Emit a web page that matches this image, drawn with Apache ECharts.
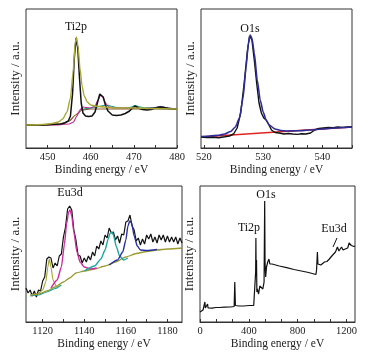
<!DOCTYPE html>
<html><head><meta charset="utf-8">
<script src="https://cdn.jsdelivr.net/npm/echarts@6/dist/echarts.min.js"></script>
<style>html,body{margin:0;padding:0;background:#fff}#c{width:370px;height:357px}</style>
</head><body><div id="c"></div>
<script>
// ---------- Panel 1: Ti2p ----------
const ti2pLabels = [450, 460, 470, 480];
const ti2pTicks = [450, 455, 460, 465, 470, 475, 480];
const ti2pRaw = [[445,23],[447,23.2],[449,22.8],[451,23.5],[453,24],[454,25],[454.8,27],[455.3,32],[455.8,55],[456.2,90],[456.6,110],[457.0,100],[457.4,70],[457.8,45],[458.2,35],[458.8,32],[459.5,31.5],[460.3,32],[461.0,36],[461.6,46],[462.1,54],[462.5,55],[462.9,51],[463.4,43],[464,37],[465,33],[466,32.5],[467,33],[468,34.5],[469,37],[469.7,40],[470.3,42],[471,40],[472,38.5],[473,38],[474,38.5],[475,40],[476,41],[477,40.5],[478,39.5],[479,39],[480,39]];
const ti2pFitA = [[445,23],[449,23.5],[451,24.5],[452.5,26],[453.5,29],[454.5,36],[455.3,50],[455.9,75],[456.4,105],[456.7,111],[457.1,100],[457.5,80],[458,62],[458.5,52],[459.2,46],[460,43],[461,42],[463,41],[466,40],[470,40],[475,39.5],[480,39]];
const ti2pFitB = [[445,23],[452,23],[455,24],[456,26],[456.8,32],[457.5,38],[458.2,41],[459,40.5],[460,40],[461,42],[461.7,48],[462.3,53],[462.8,51],[463.4,45],[464.2,41],[465.5,40],[468,40],[472,39.5],[476,39.5],[480,39]];
const ti2pFitC = [[457.5,38],[459,39.5],[461,40.5],[462.5,42],[463.5,43],[464.5,42],[466,40.5],[468,40],[469.5,41],[470.2,42.5],[471,41.5],[472.5,40],[475,39.5],[480,39]];
const ti2pFitD = [[472,39.5],[475,40.5],[476.2,41.5],[477.3,40.5],[479,39.5],[480,39]];
const ti2pBg = [[445,23],[453,24],[455,27],[456.5,33],[458,38],[460,39],[480,39]];

// ---------- Panel 2: O1s ----------
const o1sLabels = [520, 530, 540];
const o1sTicks = [520, 522.5, 525, 527.5, 530, 532.5, 535, 537.5, 540, 542.5, 545];
const o1sRaw = [[519.5,11],[520.5,10.5],[521.5,10.8],[522.5,10.3],[523.5,11.2],[524.3,12],[525,14],[525.6,20],[526.2,35],[526.8,65],[527.3,95],[527.7,112],[528.1,108],[528.5,88],[528.9,65],[529.3,45],[529.7,35],[530.1,30],[530.5,28],[530.9,24],[531.4,18],[532,15.5],[532.7,15],[533.5,14],[534.3,14.5],[535,14],[535.8,13.6],[536.5,14.3],[537.2,14],[538,15],[538.7,18],[539.4,19.5],[540.2,20],[541,20.5],[541.8,20.2],[542.6,21],[543.5,20.6],[544.3,21],[545,21]];
const o1sFit = [[519.5,11.5],[521,12],[522.5,12.8],[523.5,14],[524.5,16.5],[525.3,21],[526,30],[526.6,50],[527.1,80],[527.5,105],[527.8,113],[528.1,110],[528.5,95],[529,68],[529.5,48],[530,36],[530.5,28],[531,23],[532,19],[533,17.5],[534,17],[536,17.2],[538,18],[540,19],[542,20],[545,21]];
const o1sBg = [[519.5,11],[545,21]];

// ---------- Panel 3: Eu3d ----------
const eu3dLabels = [1120, 1140, 1160, 1180];
const eu3dTicks = [1120, 1130, 1140, 1150, 1160, 1170, 1180];
const eu3dX = [1112,1113,1114,1115,1116,1117,1118,1119,1120,1121,1122,1123,1124,1125,1126,1127,1128,1129,1130,1131,1132,1133,1134,1135,1136,1137,1138,1139,1140,1141,1142,1143,1144,1145,1146,1147,1148,1149,1150,1151,1152,1153,1154,1155,1156,1157,1158,1159,1160,1161,1162,1163,1164,1165,1166,1167,1168,1169,1170,1171,1172,1173,1174,1175,1176,1177,1178,1179,1180,1181,1182,1183,1184,1185,1186,1187];
const eu3dRaw = [34,29,32,26,31,25,32,31,41,45,63,65,64,54,59,56,66,68,85,95,113,116,112,92,82,67,66,59,64,60,66,62,70,66,76,73,81,77,87,84,94,89,90,82,86,79,88,87,100,101,107,96,92,81,84,77,83,78,87,83,88,80,85,79,87,82,87,80,86,80,85,80,85,78,84,79];
const eu3dBg = [[1114,27],[1118,28],[1122,31],[1126,35],[1130,40],[1133,44],[1136,49],[1140,51],[1145,53],[1150,56],[1155,60],[1160,65],[1165,68.5],[1170,70.5],[1175,72],[1180,73],[1187,74]];
const eu3dLow = [[1114,26],[1118,27],[1122,30],[1126,33.5],[1129,37]];
const eu3dFitA = [[1118,28],[1120,32],[1121.5,40],[1122.5,55],[1123.2,63],[1124,55],[1125,42],[1126.5,36],[1128,37]];
const eu3dFitB = [[1124,34],[1127,42],[1129,55],[1130.5,78],[1131.5,98],[1132.5,110],[1133.2,112],[1134,106],[1135,90],[1136.5,70],[1138,60],[1140,55],[1143,53],[1146,54]];
const eu3dFitC = [[1140,51],[1145,56],[1148,63],[1150,72],[1151.5,83],[1152.5,89],[1153.2,90],[1154,87],[1155.5,75],[1157,66],[1159,62],[1161,64]];
const eu3dFitD = [[1152,57],[1156,62],[1158.5,70],[1160,82],[1161,96],[1161.9,101],[1162.8,99],[1164,86],[1165.5,76],[1167,72],[1170,71.5],[1175,72.5]];

// ---------- Panel 4: survey ----------
const surveyLabels = [0, 400, 800, 1200];
const surveyTicks = [0, 133.33, 266.67, 400, 533.33, 666.67, 800, 933.33, 1066.67, 1200];
const survey = [[0,10],[10,11],[25,12],[35,13],[40,20],[44,14],[55,13.5],[62,18],[66,14],[75,13.5],[100,13.8],[130,14.5],[160,14.5],[200,14.8],[250,15],[280,15.5],[285,40],[290,16.5],[320,16],[360,16],[400,16.5],[440,16.5],[452,16.8],[456,50],[458,84],[460,50],[463,62],[466,30],[470,33],[480,28],[490,36],[500,34],[515,33],[525,40],[530,121],[533,60],[538,45],[545,55],[555,60],[565,63],[572,58],[590,58],[650,56],[710,54.3],[770,52.5],[830,51],[890,49.5],[950,47.5],[955,52],[962,70],[966,58],[975,58],[990,57],[1000,59],[1020,60],[1040,60.5],[1060,63],[1075,62],[1080,66],[1095,67],[1110,70],[1118,69],[1126,75],[1131,74],[1134,77],[1138,71],[1150,73],[1160,75],[1172,72],[1190,73],[1210,74],[1222,79],[1230,79.5],[1240,76.5],[1260,75.5],[1270,76]];

const FONT = 'Liberation Serif';
const grids = [
  {left:26, top:9, width:151, height:139},
  {left:201, top:9, width:151, height:139},
  {left:26, top:186, width:156, height:136},
  {left:200, top:186, width:155, height:136}
];
const xr = [[445,480,ti2pLabels,ti2pTicks],[519.5,545,o1sLabels,o1sTicks],[1112,1187,eu3dLabels,eu3dTicks],[0,1270,surveyLabels,surveyTicks]];
const ymax = [139,139,136,136];

function xAxis(i){
  const r = xr[i];
  return {gridIndex:i, type:'value', min:r[0], max:r[1],
    axisLine:{show:true, lineStyle:{color:'#333', width:1}},
    axisTick:{show:true, inside:true, length:3, customValues:r[3], lineStyle:{color:'#333'}},
    axisLabel:{customValues:r[2], formatter:(v)=>String(v), fontSize:10.5, color:'#222', fontFamily:FONT, margin:4},
    splitLine:{show:false},
    name:'Binding energy / eV', nameLocation:'middle', nameGap:16,
    nameTextStyle:{fontSize:11.5, color:'#222', fontFamily:FONT}};
}
function yAxis(i){
  return {gridIndex:i, type:'value', min:0, max:ymax[i],
    axisLine:{show:false}, axisTick:{show:false}, axisLabel:{show:false}, splitLine:{show:false},
    name:'Intensity / a.u.', nameLocation:'middle', nameGap:4, nameRotate:90,
    nameTextStyle:{fontSize:13, color:'#222', fontFamily:FONT}};
}
function line(i, data, color, w){
  return {type:'line', xAxisIndex:i, yAxisIndex:i, data:data, showSymbol:false, symbol:'none',
    smooth:0.2, smoothMonotone:'x', lineStyle:{color:color, width:w||1.2}, silent:true, animation:false};
}
function rawLine(i, data, w){
  return {type:'line', xAxisIndex:i, yAxisIndex:i, data:data, showSymbol:false, symbol:'none',
    lineStyle:{color:'#111', width:w||1.3}, silent:true, animation:false};
}
const eu3dRawPairs = eu3dX.map((x,k)=>[x, eu3dRaw[k]]);

const series = [
  line(0, ti2pBg, '#8b5a2b'),
  line(0, ti2pFitD, '#2b2b8f'),
  line(0, ti2pFitC, '#1a9a8a'),
  line(0, ti2pFitB, '#c0309a'),
  rawLine(0, ti2pRaw, 1.5),
  line(0, ti2pFitA, '#a9a836', 1.4),
  line(1, o1sBg, '#e02424', 1.4),
  rawLine(1, o1sRaw, 1.4),
  line(1, o1sFit, '#2d2d9a', 1.6),
  rawLine(2, eu3dRawPairs, 1.2),
  line(2, eu3dLow, '#1aa0a0'),
  line(2, eu3dBg, '#9a9a30', 1.3),
  line(2, eu3dFitA, '#a8a832'),
  line(2, eu3dFitB, '#cc2a9e', 1.4),
  line(2, eu3dFitC, '#1aa8a0', 1.4),
  line(2, eu3dFitD, '#2a2fa0', 1.4),
  rawLine(3, survey, 1.2)
];

const txt = (x,y,s)=>({type:'text', x:x, y:y, style:{text:s, fontSize:12, fontFamily:FONT, fill:'#111', align:'center', verticalAlign:'middle'}});
const chart = echarts.init(document.getElementById('c'), null, {renderer:'canvas'});
chart.setOption({
  backgroundColor:'#fff',
  animation:false,
  grid: grids.map(g=>Object.assign({show:true, borderColor:'#333', borderWidth:1, backgroundColor:'transparent'}, g)),
  xAxis:[0,1,2,3].map(xAxis),
  yAxis:[0,1,2,3].map(yAxis),
  series:series,
  graphic:[
    txt(76,27,'Ti2p'), txt(250,29,'O1s'), txt(70,193,'Eu3d'),
    txt(266,195,'O1s'), txt(249,228,'Ti2p'), txt(334,229,'Eu3d'),
    {type:'line', shape:{x1:337, y1:238, x2:333, y2:247}, style:{stroke:'#111', lineWidth:1}}
  ]
});
</script></body></html>
